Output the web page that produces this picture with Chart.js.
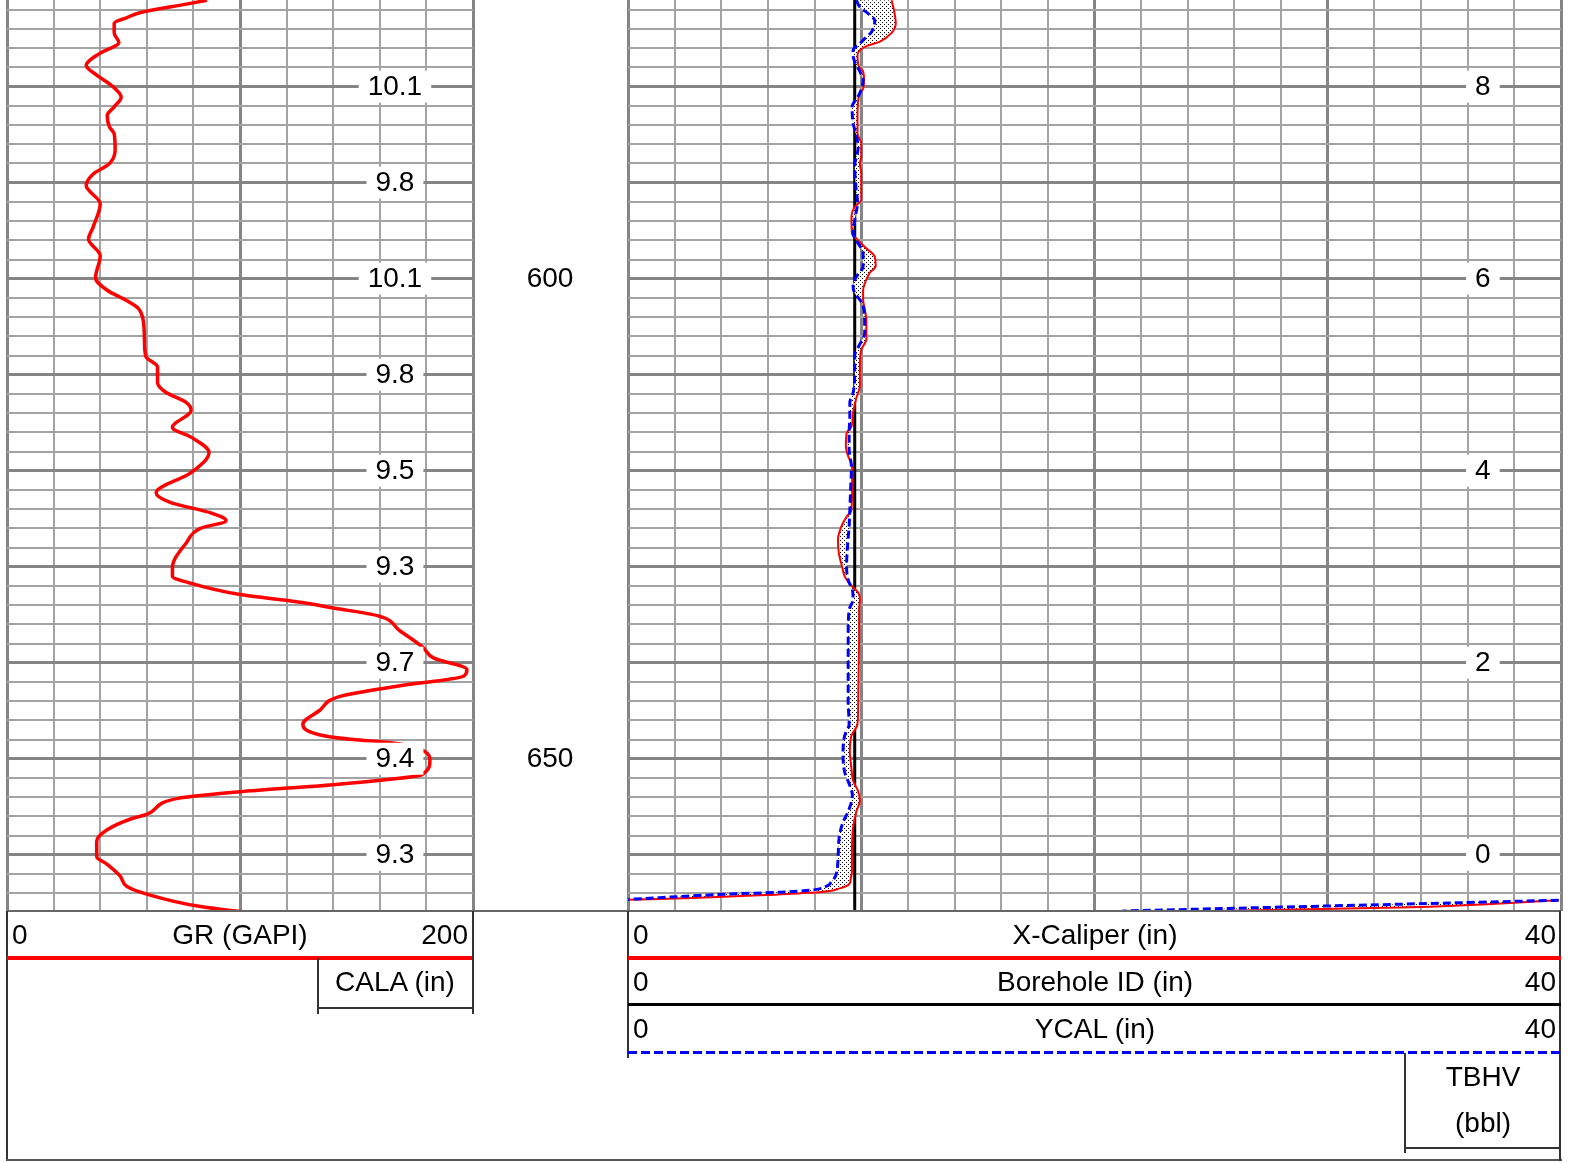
<!DOCTYPE html>
<html>
<head>
<meta charset="utf-8">
<script src="https://cdn.jsdelivr.net/npm/chart.js@4.4.1/dist/chart.umd.min.js"></script>
<style>
  html, body { margin: 0; padding: 0; background: #fff; }
  #page { position: relative; width: 1574px; height: 1162px; overflow: hidden;
          font-family: "Liberation Sans", Arial, sans-serif; color: #000; }
  canvas { position: absolute; left: 0; top: 0; }
  .ln { position: absolute; background: #333; }
  .txt { position: absolute; font-size: 28px; line-height: 32px; height: 32px; white-space: nowrap; }
  .c { text-align: center; width: 400px; }
  .r { text-align: right; width: 200px; }
</style>
</head>
<body>
<div id="page">
  <canvas id="grTrack" width="1574" height="1162"></canvas>
  <canvas id="calTrack" width="1574" height="1162"></canvas>

  <!-- header frame -->
  <div class="ln" style="left:7px;top:910px;width:1554px;height:2px;background:#666"></div>
  <div class="ln" style="left:6px;top:911px;width:2px;height:250px"></div>
  <div class="ln" style="left:6px;top:1159px;width:1556px;height:2px;background:#555"></div>
  <div class="ln" style="left:1559px;top:911px;width:2px;height:250px"></div>

  <!-- GR track header -->
  <div class="txt" style="left:12px;top:919px">0</div>
  <div class="txt c" style="left:40px;top:919px">GR (GAPI)</div>
  <div class="txt r" style="left:268px;top:919px">200</div>
  <div class="ln" style="left:7px;top:956px;width:466px;height:4px;background:#ff0000"></div>
  <div class="ln" style="left:472px;top:911px;width:2px;height:103px"></div>
  <div class="ln" style="left:317px;top:958px;width:2px;height:56px"></div>
  <div class="ln" style="left:318px;top:1007px;width:155px;height:2px"></div>
  <div class="txt c" style="left:195px;top:966px">CALA (in)</div>

  <!-- caliper track header -->
  <div class="ln" style="left:627px;top:911px;width:2px;height:147px"></div>
  <div class="txt" style="left:633px;top:919px">0</div>
  <div class="txt c" style="left:895px;top:919px">X-Caliper (in)</div>
  <div class="txt r" style="left:1356px;top:919px">40</div>
  <div class="ln" style="left:628px;top:956px;width:933px;height:4px;background:#ff0000"></div>
  <div class="txt" style="left:633px;top:966px">0</div>
  <div class="txt c" style="left:895px;top:966px">Borehole ID (in)</div>
  <div class="txt r" style="left:1356px;top:966px">40</div>
  <div class="ln" style="left:628px;top:1003px;width:933px;height:3px;background:#000"></div>
  <div class="txt" style="left:633px;top:1013px">0</div>
  <div class="txt c" style="left:895px;top:1013px">YCAL (in)</div>
  <div class="txt r" style="left:1356px;top:1013px">40</div>
  <div class="ln" style="left:628px;top:1051px;width:933px;height:3px;background:repeating-linear-gradient(90deg,#0000ff 0 9px,transparent 9px 13px)"></div>
  <div class="ln" style="left:1404px;top:1053px;width:2px;height:100px"></div>
  <div class="ln" style="left:1405px;top:1147px;width:156px;height:2px"></div>
  <div class="txt c" style="left:1283px;top:1061px">TBHV</div>
  <div class="txt c" style="left:1283px;top:1107px">(bbl)</div>
</div>

<script>
// depth window of the log (ft)
const topDepth = 570.97;
const bottomDepth = 665.86;

// gamma ray track
const grDepth = [571.0, 571.4, 572.3, 572.8, 573.4, 574.4, 575.4, 576.5, 577.8, 578.8, 579.9, 581.1, 582.1, 583.0,
  584.2, 584.9, 586.6, 588.0, 589.1, 590.3, 592.2, 594.6, 595.9, 597.6, 599.9, 601.2, 602.3, 603.0, 604.4, 606.5,
  608.1, 609.2, 610.8, 611.8, 612.9, 613.7, 615.5, 616.5, 618.1, 620.2, 622.3, 623.3, 624.4, 625.2, 626.0, 627.5,
  630.1, 631.0, 631.7, 632.9, 633.7, 634.3, 635.1, 636.7, 638.4, 639.5, 640.7, 641.4, 642.4, 643.5, 645.0, 646.4,
  647.5, 648.0, 648.3, 649.2, 650.2, 651.5, 651.8, 652.7, 653.4, 654.1, 655.8, 656.2, 657.4, 658.6, 660.2, 661.0,
  662.2, 663.3, 664.1, 665.4, 666.0];
const grValue = [85.8, 77, 57, 51.5, 46, 46, 48, 40, 34, 38.5, 45, 49, 46, 43,
  44, 46, 46.4, 44, 37, 34, 40, 37, 35, 40, 38, 43, 51.5, 56, 58.5, 59,
  59.6, 64.6, 64.6, 68, 77, 79, 71, 79, 86.7, 79, 64, 70, 87.5, 94, 83, 77,
  71, 71, 78.5, 100, 126, 140, 159, 168.7, 178.5, 183, 197.4, 196, 168.7, 143, 134, 127,
  134, 148.5, 164, 179, 181.5, 179, 176, 140, 101.5, 74, 60, 54, 43, 38.5, 38.5, 43,
  48.5, 51.5, 60, 83, 103];
const grTicks = [0, 20, 40, 60, 80, 100, 120, 140, 160, 180, 200];

// CALA readings printed every 10 ft
const calaDepth = [580, 590, 600, 610, 620, 630, 640, 650, 660];
const calaLabels = ["10.1", "9.8", "10.1", "9.8", "9.5", "9.3", "9.7", "9.4", "9.3"];

// depth track
const depthLabels = [600, 650];

// caliper track
const xcalDepth = [571.0, 572.0, 573.4, 574.4, 575.3, 575.8, 576.2, 576.7, 577.9, 578.4, 579.3, 580.2, 580.7, 581.4,
  583.1, 584.9, 585.9, 587.3, 588.0, 589.0, 591.8, 592.5, 593.5, 595.3, 595.8, 596.7, 597.7, 598.7, 599.4, 600.5,
  601.2, 602.2, 603.2, 604.3, 606.3, 607.4, 609.1, 611.2, 612.4, 614.0, 615.4, 616.1, 617.5, 618.5, 619.6, 621.3,
  624.1, 624.8, 625.8, 627.2, 628.6, 630.0, 631.0, 632.0, 632.7, 633.4, 634.5, 637.0, 640.5, 644.0, 646.4, 647.6,
  649.2, 651.0, 652.3, 653.4, 654.4, 655.5, 657.2, 660.0, 661.8, 662.5, 663.0, 663.5, 663.9, 664.0, 664.2, 664.5,
  664.7, 664.72, 664.74, 665.5, 665.86];
const xcalValue = [11.3, 11.4, 11.48, 11.3, 10.8, 10.2, 9.94, 9.84, 9.9, 10.08, 10.12, 10.08, 9.94, 9.87,
  9.84, 9.84, 10.0, 10.0, 9.94, 10.0, 10.0, 9.72, 9.58, 9.6, 9.79, 10.15, 10.58, 10.62, 10.36, 10.15,
  10.08, 10.08, 10.15, 10.22, 10.22, 10.0, 9.94, 9.94, 9.79, 9.65, 9.58, 9.37, 9.34, 9.44, 9.61, 9.61,
  9.58, 9.37, 9.15, 9.0, 9.04, 9.18, 9.29, 9.58, 9.87, 9.94, 9.91, 9.91, 9.89, 9.87, 9.84, 9.58,
  9.51, 9.58, 9.65, 9.87, 9.94, 9.79, 9.65, 9.6, 9.6, 9.55, 9.5, 9.08, 8.2, 7.4, 5.9, 2.8,
  0.0, null, 39.9, 33.1, 25.2];

const ycalDepth = [571.0, 571.7, 572.4, 573.1, 574.3, 575.0, 575.5, 576.2, 576.7, 577.4, 578.4, 579.3, 580.3, 581.0,
  582.1, 583.8, 584.9, 586.3, 588.3, 590.4, 592.2, 593.2, 595.3, 596.0, 597.4, 598.7, 599.8, 600.8, 601.5, 602.4,
  603.3, 605.6, 607.0, 608.0, 609.8, 611.9, 612.9, 614.3, 616.1, 617.8, 619.6, 621.6, 624.1, 625.8, 627.9, 630.0,
  631.4, 632.4, 633.4, 634.5, 637.0, 640.5, 644.0, 646.4, 647.6, 649.2, 651.4, 652.8, 653.8, 655.5, 656.6, 658.3,
  660.7, 662.2, 662.9, 663.3, 663.7, 663.9, 664.1, 664.65, 664.7, 664.74, 665.2, 665.86];
const ycalValue = [9.79, 9.94, 10.3, 10.58, 10.44, 10.15, 9.94, 9.65, 9.65, 9.72, 9.94, 10.08, 10.0, 9.87,
  9.61, 9.65, 9.77, 9.87, 9.72, 9.77, 9.84, 9.77, 9.65, 9.79, 10.08, 10.08, 9.79, 9.65, 9.72, 10.0,
  10.12, 10.15, 9.9, 9.72, 9.72, 9.65, 9.51, 9.51, 9.48, 9.48, 9.58, 9.55, 9.51, 9.48, 9.41, 9.37,
  9.44, 9.62, 9.65, 9.48, 9.44, 9.44, 9.44, 9.48, 9.29, 9.22, 9.29, 9.51, 9.62, 9.44, 9.22, 9.05,
  9.0, 8.9, 8.7, 8.5, 7.8, 6.5, 4.3, 0.0, null, 39.9, 32.3, 21.2];

const boreDepth = [570.97, 665.86];
const boreValue = [9.72, 9.72];
const calTicks = [0, 2, 4, 6, 8, 10, 12, 14, 16, 18, 20, 22, 24, 26, 28, 30, 32, 34, 36, 38, 40];

// TBHV values printed every 20 ft
const tbhvDepth = [580, 600, 620, 640, 660];
const tbhvLabels = ["8", "6", "4", "2", "0"];

const depthTicks = [];
for (let d = 572; d <= 664; d += 2) depthTicks.push(d);

const pts = (depths, values) => depths.map((d, i) => ({ x: values[i], y: d }));

const FONT = '28px "Liberation Sans", Arial, sans-serif';
const MINOR = "#a3a3a3";
const MAJOR = "#858585";

// dotted fill between the two calipers
function dotPattern() {
  const c = document.createElement("canvas");
  c.width = 4; c.height = 4;
  const g = c.getContext("2d");
  g.fillStyle = "#fff"; g.fillRect(0, 0, 4, 4);
  g.fillStyle = "#000"; g.fillRect(0, 0, 1, 1); g.fillRect(2, 2, 1, 1);
  return g.createPattern(c, "repeat");
}

// labels written on the grid with a white box behind them
const gridLabels = {
  id: "gridLabels",
  afterDatasetsDraw(chart, args, opts) {
    const { ctx, scales: { x, y } } = chart;
    ctx.save();
    ctx.font = FONT;
    ctx.textAlign = "center";
    ctx.textBaseline = "middle";
    const px = x.getPixelForValue(opts.at);
    opts.depths.forEach((d, i) => {
      const py = y.getPixelForValue(d);
      const w = ctx.measureText(opts.labels[i]).width + 18;
      ctx.fillStyle = "#fff";
      ctx.fillRect(px - w / 2, py - 16, w, 32);
      ctx.fillStyle = "#000";
      ctx.fillText(opts.labels[i], px, py + 1);
    });
    if (opts.depthTrack) {
      const dx = chart.chartArea.right + 77;
      opts.depthTrack.forEach((d) => {
        ctx.fillText(String(d), dx, y.getPixelForValue(d) + 1);
      });
    }
    ctx.restore();
  },
};

function depthScale() {
  return {
    type: "linear",
    reverse: true,
    min: topDepth,
    max: bottomDepth,
    afterBuildTicks: (axis) => { axis.ticks = depthTicks.map((v) => ({ value: v })); },
    ticks: { display: false },
    border: { display: false },
    grid: {
      drawTicks: false,
      color: (c) => (c.tick.value % 10 === 0 ? MAJOR : MINOR),
      lineWidth: (c) => (c.tick.value % 10 === 0 ? 3 : 2),
    },
  };
}

function valueScale(min, max, ticks, majorEvery) {
  return {
    type: "linear",
    min: min,
    max: max,
    afterBuildTicks: (axis) => { axis.ticks = ticks.map((v) => ({ value: v })); },
    ticks: { display: false },
    border: { display: false },
    grid: {
      drawTicks: false,
      color: (c) => (c.tick.value % majorEvery === 0 ? MAJOR : MINOR),
      lineWidth: (c) => (c.tick.value % majorEvery === 0 ? 3 : 2),
    },
  };
}

const common = {
  responsive: false,
  animation: false,
  events: [],
  indexAxis: "y",
  elements: { point: { radius: 0 } },
};

new Chart(document.getElementById("grTrack"), {
  type: "line",
  data: {
    datasets: [{
      label: "GR (GAPI)",
      data: pts(grDepth, grValue),
      borderColor: "#ff0000",
      borderWidth: 3.5,
      cubicInterpolationMode: "monotone",
      fill: false,
    }],
  },
  options: {
    ...common,
    layout: { padding: { left: 7, top: 0, right: 1574 - 473, bottom: 1162 - 911 } },
    scales: { x: valueScale(0, 200, grTicks, 100), y: depthScale() },
    plugins: {
      legend: { display: false },
      tooltip: { enabled: false },
      gridLabels: { at: 166.5, depths: calaDepth, labels: calaLabels, depthTrack: depthLabels },
    },
  },
  plugins: [gridLabels],
});

new Chart(document.getElementById("calTrack"), {
  type: "line",
  data: {
    datasets: [
      {
        label: "Borehole ID (in)",
        data: pts(boreDepth, boreValue),
        borderColor: "#000",
        borderWidth: 3,
        fill: false,
        order: 4,
      },
      {
        label: "X-Caliper (in)",
        data: pts(xcalDepth, xcalValue),
        borderColor: "#ff0000",
        borderWidth: 2,
        cubicInterpolationMode: "monotone",
        backgroundColor: dotPattern(),
        fill: 2,
        order: 3,
      },
      {
        label: "YCAL (in)",
        data: pts(ycalDepth, ycalValue),
        borderColor: "#0000ff",
        borderWidth: 3,
        borderDash: [8, 4],
        cubicInterpolationMode: "monotone",
        fill: false,
        order: 2,
      },
    ],
  },
  options: {
    ...common,
    layout: { padding: { left: 628, top: 0, right: 1574 - 1561, bottom: 1162 - 911 } },
    scales: { x: valueScale(0, 40, calTicks, 10), y: depthScale() },
    plugins: {
      legend: { display: false },
      tooltip: { enabled: false },
      gridLabels: { at: 36.65, depths: tbhvDepth, labels: tbhvLabels },
    },
  },
  plugins: [gridLabels],
});
</script>
</body>
</html>
